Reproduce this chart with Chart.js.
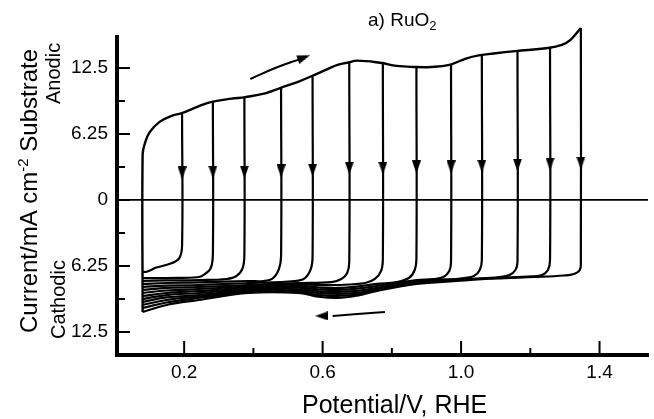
<!DOCTYPE html>
<html>
<head>
<meta charset="utf-8">
<script src="https://cdn.jsdelivr.net/npm/chart.js@4.4.0/dist/chart.umd.min.js"></script>
<style>
  html, body { margin: 0; padding: 0; background: #fff; }
  canvas { display: block; }
</style>
</head>
<body>
<canvas id="cv-chart" width="654" height="419"></canvas>
<script>
// anodic sweep shared by every cycle (V vs RHE, mA cm-2)
const anodicPotential = [0.08, 0.08, 0.086, 0.1, 0.129, 0.166, 0.191, 0.243, 0.28, 0.337, 0.377, 0.434, 0.477, 0.529, 0.566, 0.614, 0.643, 0.671, 0.7, 0.766, 0.814, 0.863, 0.914, 0.966, 1.014, 1.051, 1.1, 1.157, 1.251, 1.291, 1.317, 1.346];
const anodicCurrent = [-10.61, 4.3, 5.3, 6.4, 7.4, 8.0, 8.2, 8.9, 9.3, 9.6, 9.75, 10.1, 10.6, 11.2, 11.7, 12.4, 12.8, 13.0, 13.2, 13.0, 12.7, 12.6, 12.6, 12.8, 13.4, 13.7, 13.9, 14.1, 14.4, 14.7, 15.2, 16.3];

// reversal potentials, arrow marks on the downward steps
const reversalPotential = [0.194, 0.283, 0.374, 0.48, 0.571, 0.677, 0.774, 0.871, 0.971, 1.06, 1.163, 1.257, 1.346];
const reversalArrowCurrent = [2.56, 2.65, 2.65, 2.75, 2.84, 3.03, 3.03, 3.13, 3.13, 3.22, 3.31, 3.41, 3.5];

// cathodic return sweeps [E, I], one per reversal potential
const sweep01 = [[0.194, 8.2], [0.194, -4.3], [0.186, -5.5], [0.163, -6.0], [0.12, -6.4], [0.091, -6.8], [0.08, -6.8]];
const sweep02 = [[0.283, 9.3], [0.283, -5.1], [0.277, -6.44], [0.26, -7.01], [0.243, -7.29], [0.149, -7.39], [0.08, -7.39]];
const sweep03 = [[0.374, 9.7], [0.374, -5.11], [0.369, -6.44], [0.351, -7.2], [0.323, -7.48], [0.243, -7.58], [0.149, -7.62], [0.08, -7.67]];
const sweep04 = [[0.48, 10.6], [0.48, -5.3], [0.474, -6.53], [0.457, -7.39], [0.429, -7.67], [0.386, -7.67], [0.243, -7.81], [0.149, -7.86], [0.08, -7.95]];
const sweep05 = [[0.571, 11.7], [0.571, -5.3], [0.566, -6.53], [0.549, -7.39], [0.52, -7.67], [0.386, -7.86], [0.243, -8.05], [0.149, -8.1], [0.08, -8.24]];
const sweep06 = [[0.677, 13.0], [0.677, -5.87], [0.671, -6.91], [0.654, -7.48], [0.626, -7.77], [0.529, -7.86], [0.386, -8.05], [0.243, -8.24], [0.149, -8.33], [0.08, -8.52]];
const sweep07 = [[0.774, 13.0], [0.774, -5.49], [0.769, -6.72], [0.751, -7.48], [0.723, -7.86], [0.643, -8.05], [0.586, -8.05], [0.529, -8.0], [0.386, -8.19], [0.243, -8.43], [0.149, -8.57], [0.08, -8.81]];
const sweep08 = [[0.871, 12.6], [0.871, -5.49], [0.866, -6.63], [0.849, -7.39], [0.814, -7.77], [0.757, -7.95], [0.7, -8.2], [0.643, -8.33], [0.586, -8.28], [0.529, -8.14], [0.386, -8.33], [0.243, -8.62], [0.149, -8.81], [0.08, -9.09]];
const sweep09 = [[0.971, 12.8], [0.971, -5.87], [0.966, -6.72], [0.949, -7.29], [0.92, -7.48], [0.871, -7.58], [0.757, -8.14], [0.7, -8.4], [0.643, -8.52], [0.586, -8.45], [0.529, -8.3], [0.386, -8.43], [0.243, -8.81], [0.149, -9.0], [0.08, -9.38]];
const sweep10 = [[1.06, 13.7], [1.06, -5.68], [1.054, -6.63], [1.037, -7.2], [1.009, -7.39], [0.986, -7.48], [0.871, -7.67], [0.757, -8.33], [0.7, -8.6], [0.643, -8.71], [0.586, -8.62], [0.529, -8.45], [0.386, -8.52], [0.243, -9.0], [0.149, -9.23], [0.08, -9.66]];
const sweep11 = [[1.163, 14.1], [1.163, -5.87], [1.157, -6.63], [1.14, -7.1], [1.111, -7.29], [1.1, -7.34], [0.986, -7.53], [0.871, -7.77], [0.757, -8.45], [0.7, -8.8], [0.643, -8.9], [0.586, -8.8], [0.529, -8.55], [0.386, -8.62], [0.243, -9.14], [0.149, -9.47], [0.08, -9.94]];
const sweep12 = [[1.257, 14.4], [1.257, -5.68], [1.251, -6.63], [1.234, -7.1], [1.206, -7.24], [1.1, -7.39], [0.986, -7.58], [0.871, -7.86], [0.757, -8.55], [0.7, -8.95], [0.643, -9.09], [0.586, -8.98], [0.529, -8.7], [0.386, -8.71], [0.243, -9.28], [0.149, -9.71], [0.08, -10.23]];
const sweep13 = [[1.346, 16.3], [1.346, -5.87], [1.343, -6.63], [1.326, -7.01], [1.297, -7.15], [1.214, -7.29], [1.1, -7.43], [0.986, -7.67], [0.871, -7.95], [0.757, -8.6], [0.7, -9.05], [0.643, -9.28], [0.586, -9.15], [0.529, -8.8], [0.386, -8.81], [0.243, -9.47], [0.149, -9.94], [0.08, -10.61]];

// sweep direction arrows
const forwardArrow = [[0.391, 11.46], [0.463, 12.5], [0.534, 13.35], [0.546, 13.5]];
const backwardArrow = [[0.78, -10.61], [0.7, -10.8], [0.629, -10.98], [0.597, -10.98]];

// ticks
const xTickValues = [0.2, 0.4, 0.6, 0.8, 1.0, 1.2, 1.4];
const xTickLabels = ['0.2', '', '0.6', '', '1.0', '', '1.4'];
const yTickValues = [-12.5, -9.375, -6.25, -3.125, 0, 3.125, 6.25, 9.375, 12.5];
const yTickLabels = ['12.5', '', '6.25', '', '0', '', '6.25', '', '12.5'];

const FONT = "'Liberation Sans', Arial, sans-serif";

function arrowHead(w, h) {
    const c = document.createElement('canvas');
    c.width = w;
    c.height = h;
    const g = c.getContext('2d');
    g.fillStyle = '#000';
    g.beginPath();
    g.moveTo(0, 0);
    g.lineTo(w, 0);
    g.lineTo(w / 2, h);
    g.closePath();
    g.fill();
    return c;
}
const downHead = arrowHead(9, 13);

function curve(points, width) {
    return {
        data: points.map(p => ({ x: p[0], y: p[1] })),
        showLine: true,
        borderColor: '#000',
        borderWidth: width || 2.4,
        pointRadius: 0,
        tension: 0.4,
        fill: false,
        clip: false
    };
}

const sweeps = [sweep01, sweep02, sweep03, sweep04, sweep05, sweep06, sweep07, sweep08, sweep09, sweep10, sweep11, sweep12, sweep13];

const datasets = [];
datasets.push(curve(anodicPotential.map((e, i) => [e, anodicCurrent[i]])));
sweeps.forEach(s => datasets.push(curve(s, 2.2)));
datasets.push(curve(forwardArrow.slice(0, 3), 2));
datasets.push(curve(backwardArrow.slice(0, 3), 2));
datasets.push({
    data: reversalPotential.map((e, i) => ({ x: e, y: reversalArrowCurrent[i] })),
    pointStyle: downHead,
    pointRadius: 5,
    showLine: false,
    clip: false
});
datasets.push({
    data: [forwardArrow[3], backwardArrow[3]].map(p => ({ x: p[0], y: p[1] })),
    pointStyle: downHead,
    pointRotation: [-110, 90],
    pointRadius: 5,
    showLine: false,
    clip: false
});

// tick marks point into the plot, drawn by hand
const inwardTicks = {
    id: 'inwardTicks',
    afterDraw(chart) {
        const { ctx, chartArea, scales: { x, y } } = chart;
        ctx.save();
        ctx.strokeStyle = '#000';
        ctx.lineWidth = 2;
        yTickValues.forEach((v, i) => {
            const py = y.getPixelForValue(v);
            const len = yTickLabels[i] ? 13 : 8;
            ctx.beginPath();
            ctx.moveTo(chartArea.left, py);
            ctx.lineTo(chartArea.left + len, py);
            ctx.stroke();
        });
        xTickValues.forEach((v, i) => {
            const px = x.getPixelForValue(v);
            const len = xTickLabels[i] ? 14 : 7;
            ctx.beginPath();
            ctx.moveTo(px, chartArea.bottom);
            ctx.lineTo(px, chartArea.bottom - len);
            ctx.stroke();
        });
        ctx.restore();
    }
};

function drawRich(ctx, x, y, angle, parts) {
    ctx.save();
    ctx.translate(x, y);
    ctx.rotate(angle);
    let cx = 0;
    parts.forEach(([text, size, dy]) => {
        ctx.font = size + 'px ' + FONT;
        ctx.fillText(text, cx, dy);
        cx += ctx.measureText(text).width;
    });
    ctx.restore();
}

const labels = {
    id: 'labels',
    afterDraw(chart) {
        const ctx = chart.ctx;
        ctx.save();
        ctx.fillStyle = '#000';
        ctx.textBaseline = 'alphabetic';
        ctx.textAlign = 'left';
        drawRich(ctx, 368, 26, 0, [['a) RuO', 19, 0], ['2', 13, 4]]);
        drawRich(ctx, 37, 333, -Math.PI / 2, [['Current/mA cm', 24, 0], ['-2', 15, -9], [' Substrate', 24, 0]]);
        drawRich(ctx, 60, 104, -Math.PI / 2, [['Anodic', 20, 0]]);
        drawRich(ctx, 65, 339, -Math.PI / 2, [['Cathodic', 20, 0]]);
        drawRich(ctx, 302, 413, 0, [['Potential/V, RHE', 25, 0]]);
        ctx.restore();
    }
};

new Chart(document.getElementById('cv-chart'), {
    type: 'scatter',
    data: { datasets },
    options: {
        responsive: false,
        animation: false,
        devicePixelRatio: 1,
        events: [],
        layout: { padding: { top: 37, right: 0, bottom: 0, left: 0 } },
        plugins: { legend: { display: false }, tooltip: { enabled: false } },
        scales: {
            x: {
                type: 'linear',
                min: 0.006,
                max: 1.54,
                afterBuildTicks: scale => { scale.ticks = xTickValues.map(v => ({ value: v })); },
                afterFit: scale => { scale.height = 64; },
                grid: { display: true, color: 'rgba(0,0,0,0)', drawTicks: false },
                border: { display: true, color: '#000', width: 4 },
                ticks: {
                    autoSkip: false,
                    maxRotation: 0,
                    padding: 6,
                    color: '#000',
                    font: { family: FONT, size: 19 },
                    callback: (v, i) => xTickLabels[i]
                }
            },
            y: {
                type: 'linear',
                min: -14.68,
                max: 15.44,
                afterBuildTicks: scale => { scale.ticks = yTickValues.map(v => ({ value: v })); },
                afterFit: scale => { scale.width = 117; },
                grid: {
                    display: true,
                    drawTicks: false,
                    lineWidth: 1.8,
                    color: c => (c.tick && c.tick.value === 0 ? '#000' : 'rgba(0,0,0,0)')
                },
                border: { display: true, color: '#000', width: 4 },
                ticks: {
                    padding: 9,
                    color: '#000',
                    font: { family: FONT, size: 19 },
                    callback: (v, i) => yTickLabels[i]
                }
            }
        }
    },
    plugins: [inwardTicks, labels]
});
</script>
</body>
</html>
